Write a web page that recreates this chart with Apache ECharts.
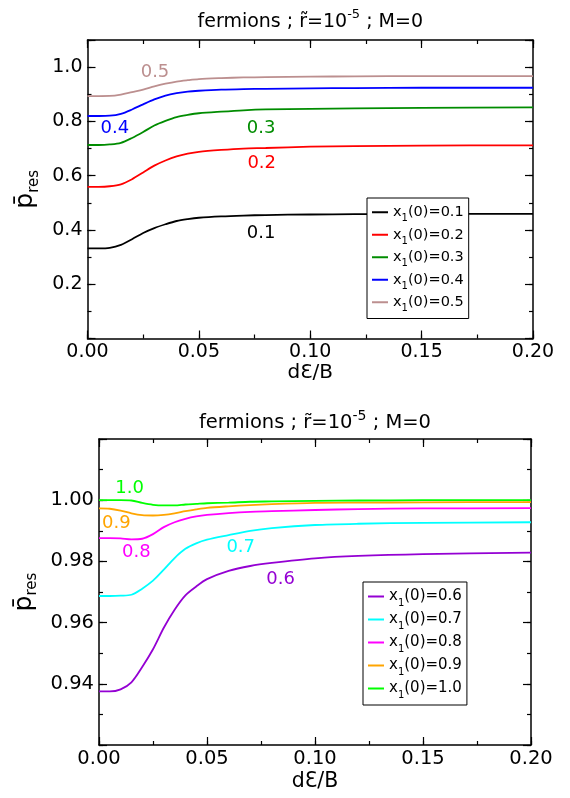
<!DOCTYPE html>
<html><head><meta charset="utf-8">
<script src="https://cdn.jsdelivr.net/npm/echarts@6/dist/echarts.min.js"></script>
<style>html,body{margin:0;padding:0;background:#fff}#c{width:570px;height:798px}</style>
</head><body><div id="c"></div>
<script>
// ---------- data ----------
const xVals = [0, 0.005, 0.01, 0.015, 0.02, 0.025, 0.03, 0.035, 0.04, 0.045, 0.05, 0.06, 0.07, 0.08, 0.1, 0.12, 0.15, 0.2];

// top panel: x1(0)=0.1 ... 0.5
const topNames = ['x1(0)=0.1', 'x1(0)=0.2', 'x1(0)=0.3', 'x1(0)=0.4', 'x1(0)=0.5'];
const top01 = [0.332, 0.332, 0.334, 0.345, 0.366, 0.389, 0.407, 0.421, 0.433, 0.440, 0.445, 0.450, 0.453, 0.455, 0.457, 0.458, 0.459, 0.459];
const top02 = [0.559, 0.559, 0.561, 0.568, 0.587, 0.612, 0.637, 0.656, 0.671, 0.681, 0.688, 0.695, 0.700, 0.702, 0.707, 0.709, 0.711, 0.712];
const top03 = [0.713, 0.713, 0.715, 0.721, 0.739, 0.761, 0.785, 0.802, 0.816, 0.824, 0.830, 0.836, 0.841, 0.844, 0.846, 0.848, 0.850, 0.852];
const top04 = [0.820, 0.820, 0.821, 0.828, 0.844, 0.863, 0.881, 0.895, 0.904, 0.910, 0.913, 0.917, 0.919, 0.920, 0.922, 0.923, 0.924, 0.924];
const top05 = [0.8935, 0.8935, 0.894, 0.899, 0.908, 0.917, 0.929, 0.939, 0.947, 0.952, 0.956, 0.9595, 0.962, 0.963, 0.965, 0.966, 0.967, 0.967];
const topSeries = [top01, top02, top03, top04, top05];
const topLabelText = ['0.1', '0.2', '0.3', '0.4', '0.5'];
const topLabelX = [0.0779, 0.0782, 0.0779, 0.0123, 0.0303];
const topLabelY = [0.3876, 0.6455, 0.7745, 0.7745, 0.9794];

// bottom panel: x1(0)=0.6 ... 1.0
const botNames = ['x1(0)=0.6', 'x1(0)=0.7', 'x1(0)=0.8', 'x1(0)=0.9', 'x1(0)=1.0'];
const bot06 = [0.9375, 0.9375, 0.9382, 0.9405, 0.9455, 0.9513, 0.9583, 0.9642, 0.9689, 0.9718, 0.9742, 0.9769, 0.9785, 0.9795, 0.9810, 0.9818, 0.9824, 0.9829];
const bot07 = [0.9687, 0.9687, 0.9688, 0.9691, 0.9711, 0.9737, 0.9773, 0.9811, 0.9841, 0.9859, 0.9871, 0.9886, 0.9900, 0.9909, 0.9919, 0.9923, 0.9926, 0.9928];
const bot08 = [0.9876, 0.9876, 0.9875, 0.9872, 0.9874, 0.9889, 0.9912, 0.9928, 0.9939, 0.9947, 0.9952, 0.9958, 0.9962, 0.9964, 0.9968, 0.9971, 0.9973, 0.9974];
const bot09 = [0.9973, 0.9972, 0.9966, 0.9957, 0.9951, 0.9950, 0.9952, 0.9957, 0.9964, 0.9970, 0.9975, 0.9980, 0.9984, 0.9987, 0.9991, 0.9992, 0.9993, 0.9994];
const bot10 = [1.0000, 1.0000, 1.0000, 0.9999, 0.9991, 0.9985, 0.9983, 0.9983, 0.9986, 0.9988, 0.9990, 0.9992, 0.9995, 0.9996, 0.9998, 0.9999, 1.0000, 1.0000];
const botSeries = [bot06, bot07, bot08, bot09, bot10];
const botLabelText = ['0.6', '0.7', '0.8', '0.9', '1.0'];
const botLabelX = [0.0841, 0.0656, 0.0173, 0.0080, 0.0142];
const botLabelY = [0.97411, 0.98466, 0.98285, 0.99256, 1.0039];

// axis ticks
const xMin = 0, xMax = 0.2, xMajor = 0.05, xMinor = 0.025;
const xLabels = ['0.00', '0.05', '0.10', '0.15', '0.20'];
const topYMin = 0, topYMax = 1.1, topYMajor = 0.2, topYMinor = 0.1;
const topYLabels = ['0.2', '0.4', '0.6', '0.8', '1.0'];
const botYMin = 0.92, botYMax = 1.02, botYMajor = 0.02, botYMinor = 0.01;
const botYLabels = ['0.94', '0.96', '0.98', '1.00'];

// ---------- style ----------
const FF = '"DejaVu Sans", "Liberation Sans", Arial, sans-serif';
const topColors = ['#000000', '#ff0000', '#008c00', '#0000ff', '#bc8f8f'];
const botColors = ['#9400d3', '#00ffff', '#ff00ff', '#ffa500', '#00ff00'];
const G1 = {left: 87.5, top: 40, width: 445.5, height: 298.5};
const G2 = {left: 99, top: 439, width: 432, height: 306};
const AL = {onZero: false, lineStyle: {color: '#000', width: 1.5}};
const TL = {color: '#000', width: 1.2};
const NOLINE = {show: false, onZero: false};

// builds: [labelled axis with minor-length ticks, major ticks, opposite minor, opposite major]
function axisSet(kind, gi, min, max, major, minor, labels, digits, fs, margin, extra) {
  const pos = kind === 'x' ? ['bottom', 'top'] : ['left', 'right'];
  const base = {gridIndex: gi, type: 'value', min: min, max: max, splitLine: {show: false}};
  const out = [];
  out.push(Object.assign({}, base, {position: pos[0], interval: minor, axisLine: AL,
    axisTick: {inside: true, length: 4, lineStyle: TL},
    axisLabel: {fontSize: fs, color: '#000', fontFamily: FF, margin: margin,
      formatter: v => { const s = v.toFixed(digits); return labels.indexOf(s) >= 0 ? s : ''; }}}, extra));
  out.push(Object.assign({}, base, {position: pos[0], interval: major, axisLine: NOLINE, axisLabel: {show: false},
    axisTick: {inside: true, length: 8, lineStyle: TL}}));
  out.push(Object.assign({}, base, {position: pos[1], interval: minor, axisLine: AL, axisLabel: {show: false},
    axisTick: {inside: true, length: 4, lineStyle: TL}}));
  out.push(Object.assign({}, base, {position: pos[1], interval: major, axisLine: NOLINE, axisLabel: {show: false},
    axisTick: {inside: true, length: 8, lineStyle: TL}}));
  return out;
}

const yName = '{p|p\u0304}{s|res}';
function yNameExtra(gap, pf, sf) {
  return {name: yName, nameLocation: 'middle', nameRotate: 90, nameGap: gap,
    nameTextStyle: {rich: {
      p: {fontSize: pf, fontFamily: FF, color: '#000', lineHeight: pf + 6},
      s: {fontSize: sf, fontFamily: FF, color: '#000', verticalAlign: 'bottom', lineHeight: sf}}}};
}
function xNameExtra(gap, fs) {
  return {name: 'd\u0190/B', nameLocation: 'middle', nameGap: gap,
    nameTextStyle: {fontSize: fs, color: '#000', fontFamily: FF}};
}

const xAxes = axisSet('x', 0, xMin, xMax, xMajor, xMinor, xLabels, 2, 19, 4, xNameExtra(23, 20))
  .concat(axisSet('x', 1, xMin, xMax, xMajor, xMinor, xLabels, 2, 19.5, 4, xNameExtra(26, 20.5)));
const yAxes = axisSet('y', 0, topYMin, topYMax, topYMajor, topYMinor, topYLabels, 1, 19, 5, yNameExtra(38, 25, 15))
  .concat(axisSet('y', 1, botYMin, botYMax, botYMajor, botYMinor, botYLabels, 2, 19.5, 5, yNameExtra(50, 25, 15)));

function mkSeries(names, ys, colors, labX, labY, labT, xi, yi, fs) {
  return names.map((n, i) => ({
    type: 'line', name: n, xAxisIndex: xi, yAxisIndex: yi,
    data: xVals.map((x, j) => [x, ys[i][j]]),
    showSymbol: false, symbol: 'none', smooth: 0.3,
    lineStyle: {color: colors[i], width: 1.8}, itemStyle: {color: colors[i]},
    markPoint: {symbol: 'circle', symbolSize: 0, silent: true, animation: false,
      data: [{coord: [labX[i], labY[i]], value: labT[i]}],
      label: {show: true, position: 'inside', formatter: labT[i], color: colors[i], fontSize: fs, fontFamily: FF}}
  }));
}

function legendFmt(name) { return '{a|x}{s|1}{a|' + name.slice(2) + '}'; }
function legendCfg(names, left, top, fs, lh, pad) {
  const sf = Math.round(fs * 0.68);
  return {data: names, orient: 'vertical', left: left, top: top, padding: pad, itemGap: 0,
    itemWidth: 16, itemHeight: 2, icon: 'rect', backgroundColor: '#fff', borderColor: '#000', borderWidth: 1,
    borderRadius: 0, selectedMode: false, formatter: legendFmt,
    textStyle: {fontSize: fs, fontFamily: FF, color: '#000', lineHeight: lh, height: lh,
      rich: {a: {fontSize: fs, fontFamily: FF, color: '#000', lineHeight: lh},
             s: {fontSize: sf, fontFamily: FF, color: '#000', verticalAlign: 'bottom', lineHeight: sf + 4}}}};
}

function titleText(x, y, fs) {
  const sf = Math.round(fs * 0.7);
  return {type: 'text', x: x, y: y, silent: true,
    style: {text: '{a|fermions ; r\u0303=10}{s|-5}{a| ; M=0}', align: 'center', verticalAlign: 'middle',
      textAlign: 'center', textVerticalAlign: 'middle', fill: '#000',
      rich: {a: {fontSize: fs, fontFamily: FF, fill: '#000', color: '#000', lineHeight: fs + 8},
             s: {fontSize: sf, fontFamily: FF, fill: '#000', color: '#000', verticalAlign: 'top', lineHeight: sf}}}};
}

const chart = echarts.init(document.getElementById('c'), null, {renderer: 'canvas'});
chart.setOption({
  animation: false,
  backgroundColor: '#fff',
  grid: [G1, G2],
  xAxis: xAxes,
  yAxis: yAxes,
  legend: [legendCfg(topNames, 367, 198, 14.5, 22.5, [3, 5, 5, 5]),
           legendCfg(botNames, 363, 582, 15, 23, [3, 5, 5, 5])],
  graphic: [titleText(G1.left + G1.width / 2, 22, 19), titleText(G2.left + G2.width / 2, 423, 19.5)],
  series: mkSeries(topNames, topSeries, topColors, topLabelX, topLabelY, topLabelText, 0, 0, 18)
    .concat(mkSeries(botNames, botSeries, botColors, botLabelX, botLabelY, botLabelText, 4, 4, 18))
});
</script></body></html>
